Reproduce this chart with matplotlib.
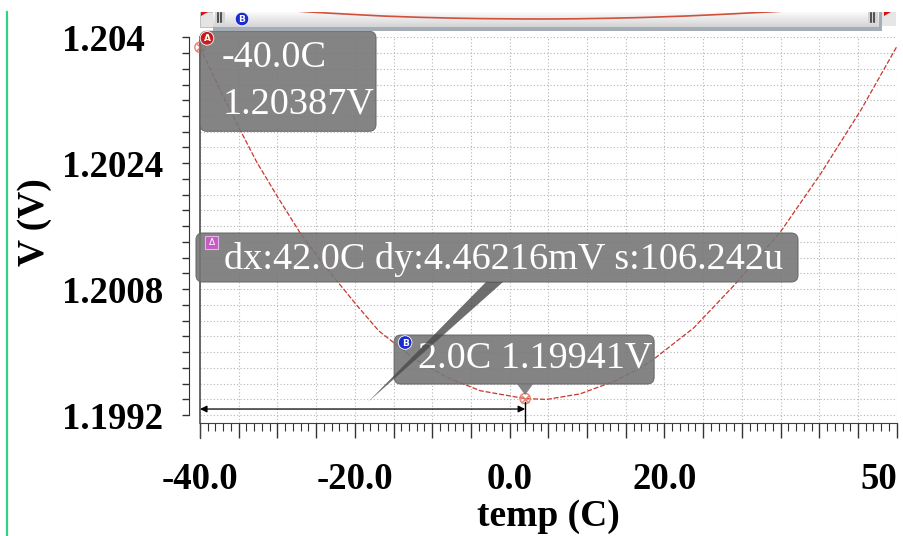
import matplotlib
matplotlib.use("Agg")
import matplotlib.pyplot as plt
import numpy as np
from matplotlib.patches import FancyBboxPatch, Polygon, Circle, Rectangle
from matplotlib.ticker import MultipleLocator, FixedLocator, FuncFormatter

# ---------------------------------------------------------------------------
# Data: bandgap output voltage vs temperature
# ---------------------------------------------------------------------------

temp_c = [-40.0, -37.4, -34.8, -32.7, -29.9, -27.1, -24.1, -19.7, -16.9, -12.4,
          -8.1, -3.8, 2.0, 4.8, 9.1, 13.5, 16.9, 18.6, 23.8, 29.0, 35.0, 40.2,
          45.4, 50.0]
v_out = [1.20387, 1.20333, 1.20282, 1.20242, 1.20196, 1.20152, 1.20112, 1.20059,
         1.20027, 1.19992, 1.19968, 1.19951, 1.19941, 1.19940, 1.19947, 1.19963,
         1.19980, 1.19991, 1.20031, 1.20085, 1.20153, 1.20227, 1.20308, 1.20388]

# cursor A and B
cursor_temp = [-40.0, 2.0]
cursor_v = [1.203873, 1.19941084]

x_tick_values = [-40, -20, 0, 20, 50]
x_tick_labels = ["-40.0", "-20.0", "0.0", "20.0", "50"]
y_tick_values = [1.1992, 1.2008, 1.2024, 1.204]
y_tick_labels = ["1.1992", "1.2008", "1.2024", "1.204"]

W, H = 904, 536
SERIF = "Liberation Serif"
CURVE = "#c8372d"


def rect(left, top, right, bottom):
    """pixel box (top-left origin) -> figure fraction"""
    return [left / W, 1 - bottom / H, (right - left) / W, (bottom - top) / H]


fig = plt.figure(figsize=(W / 100, H / 100), dpi=100)
fig.patch.set_facecolor("white")

# ---- main plot area ----
ax = fig.add_axes(rect(200, 37.3, 896.7, 423))
ax.set_xlim(-40, 50)
ax.set_ylim(1.19910, 1.204)
for s in ["top", "right", "bottom"]:
    ax.spines[s].set_visible(False)
ax.spines["left"].set_color("#505050")
ax.spines["left"].set_linewidth(1.2)

ax.xaxis.set_major_locator(MultipleLocator(5))
ax.tick_params(axis="x", length=0, labelbottom=False)
ax.yaxis.set_major_locator(FixedLocator(y_tick_values))
ax.yaxis.set_minor_locator(MultipleLocator(0.0002))
ax.set_yticks(y_tick_values, y_tick_labels)
ax.tick_params(axis="y", which="both", length=0, pad=99.4, labelsize=26.5)
for lab in ax.get_yticklabels():
    lab.set_ha("left")
    lab.set_fontweight("bold")
    lab.set_family(SERIF)
ax.grid(True, which="major", color="#b4b4b4", ls=(0, (1, 2)), lw=0.8)
ax.grid(True, which="minor", axis="y", color="#b4b4b4", ls=(0, (1, 2)), lw=0.8)

ax.plot(temp_c, v_out, color=CURVE, lw=0.9, ls=(0, (4, 1.5)), zorder=3)
ax.scatter(cursor_temp, cursor_v, s=55, marker="o", facecolors="none",
           edgecolors="#e8806f", linewidths=1.0, zorder=4, clip_on=False)
ax.scatter(cursor_temp, cursor_v, s=30, marker="x", color="#e8806f",
           linewidths=1.0, zorder=4, clip_on=False)

# ---- y ruler ----
ry = fig.add_axes(rect(182, 37.3, 189, 415))
ry.set_ylim(1.1992, 1.204)
ry.patch.set_visible(False)
for s in ["top", "left", "bottom"]:
    ry.spines[s].set_visible(False)
ry.spines["right"].set_color("#333333")
ry.yaxis.set_ticks_position("right")
ry.yaxis.set_major_locator(MultipleLocator(0.0002))
ry.tick_params(axis="y", direction="in", length=5.2, width=1.0, color="#333333",
               labelright=False)
ry.set_xticks([])

# ---- x ruler with tick labels ----
rx = fig.add_axes(rect(200, 423, 896.7, 438))
rx.set_xlim(-40, 50)
rx.patch.set_visible(False)
for s in ["right", "bottom"]:
    rx.spines[s].set_visible(False)
for s in ["top", "left"]:
    rx.spines[s].set_color("#404040")
rx.set_yticks([])
rx.xaxis.set_ticks_position("top")
rx.xaxis.set_major_locator(MultipleLocator(5))
rx.xaxis.set_minor_locator(MultipleLocator(1))
tick_map = dict(zip(x_tick_values, x_tick_labels))
rx.xaxis.set_major_formatter(FuncFormatter(lambda v, pos: tick_map.get(int(round(v)), "")))
rx.tick_params(axis="x", which="major", direction="in", length=10.8, width=1.0,
               color="#333333", labeltop=False, labelbottom=True, pad=17,
               labelsize=26.5)
rx.tick_params(axis="x", which="minor", direction="in", length=5.8, width=0.8,
               color="#333333")
for lab in rx.get_xticklabels():
    lab.set_fontweight("bold")
    lab.set_family(SERIF)
    lab.set_va("top")
    if lab.get_text() == "50":
        lab.set_ha("right")

fig.text(548 / W, 1 - 517 / H, "temp (C)", ha="center", va="center",
         fontsize=27, fontweight="bold", family=SERIF)
fig.text(35 / W, 1 - 222 / H, "V (V)", ha="center", va="center", rotation=90,
         fontsize=27, fontweight="bold", family=SERIF)

# ---- overlay in pixel coordinates for cursor boxes and overview bar ----
ov = fig.add_axes([0, 0, 1, 1], zorder=5)
ov.set_xlim(0, W)
ov.set_ylim(H, 0)
ov.axis("off")
ov.patch.set_visible(False)

fig.canvas.draw()


def to_px(t, v):
    x, y = ax.transData.transform((t, v))
    return x, H - y


ax_px, ay_px = to_px(cursor_temp[0], cursor_v[0])
bx_px, by_px = to_px(cursor_temp[1], cursor_v[1])

BOX_FC = "#777777"
BOX_KW = dict(fc=BOX_FC, ec="#666666", lw=0.8, alpha=0.9)
TXT_KW = dict(color="white", fontsize=27.5, family=SERIF, va="center", ha="left")


def cursor_badge(x, y, letter, color):
    ov.add_patch(Circle((x, y), 6.8, fc=color, ec="white", lw=0.6, zorder=8))
    ov.text(x, y + 0.5, letter, color="white", fontsize=6.5, fontweight="bold",
            ha="center", va="center", zorder=9)


# cursor A readout
ov.add_patch(FancyBboxPatch((ax_px, ay_px - 16), 176, 100,
                            boxstyle="round,pad=0,rounding_size=7", **BOX_KW))
ov.text(ax_px + 22, ay_px + 10, f"{cursor_temp[0]:.1f}C", **TXT_KW)
ov.text(ax_px + 23, ay_px + 57, f"{cursor_v[0]:.5f}V", **TXT_KW)
cursor_badge(ax_px + 7, ay_px - 9, "A", "#cc1a1a")

# cursor B readout with pointer
ov.add_patch(FancyBboxPatch((bx_px - 131, by_px - 63.5), 260, 49,
                            boxstyle="round,pad=0,rounding_size=7", **BOX_KW))
ov.add_patch(Polygon([(bx_px - 8, by_px - 14.5), (bx_px + 8, by_px - 14.5),
                      (bx_px, by_px - 3.5)], closed=True, fc=BOX_FC, ec="none",
                     alpha=0.9))
ov.text(bx_px - 107, by_px - 40, f"{cursor_temp[1]:.1f}C {cursor_v[1]:.5f}V", **TXT_KW)
cursor_badge(bx_px - 120, by_px - 56, "B", "#1a2bd0")

# delta readout
dx = cursor_temp[1] - cursor_temp[0]
dy = cursor_v[0] - cursor_v[1]
slope = dy / dx
ov.add_patch(FancyBboxPatch((ax_px - 4, 233), 602, 49,
                            boxstyle="round,pad=0,rounding_size=7", **BOX_KW))
ov.text(ax_px + 24, 259.5, f"dx:{dx:.1f}C dy:{dy * 1e3:.5f}mV s:{slope * 1e6:.3f}u",
        **TXT_KW)
ov.add_patch(Rectangle((ax_px + 5, 236), 13, 13, fc="#c45cc4", ec="#eab0ea", lw=0.8,
                       zorder=8))
ov.text(ax_px + 11.5, 242.5, "Δ", color="white", fontsize=6.5, ha="center",
        va="center", zorder=9)
ov.add_patch(Polygon([(486, 282), (503, 282), (368, 402)], closed=True,
                     fc="#4a4a4a", ec="none", alpha=0.8, zorder=6))

# dx dimension arrow
ov.annotate("", xy=(ax_px, by_px + 10.5), xytext=(bx_px, by_px + 10.5),
            arrowprops=dict(arrowstyle="<|-|>", color="black", lw=0.9,
                            mutation_scale=10, shrinkA=0, shrinkB=0))
ov.plot([bx_px, bx_px], [by_px + 3, 422], color="black", lw=1.0)

# ---- overview bar along the top ----
ov.add_patch(Rectangle((200, 12), 13, 15, fc="#e4e4e4", ec="#b8b8b8", lw=0.6))
ov.add_patch(Rectangle((213, 12), 669, 18.5, fc="#a5adb7", ec="none"))
grad = np.linspace(0.98, 0.83, 32).reshape(-1, 1)
ov.imshow(grad, extent=(213, 879, 27, 12), cmap="gray", vmin=0, vmax=1,
          aspect="auto", zorder=1)
ov.add_patch(Rectangle((882, 12), 14, 14, fc="#e6e6e6", ec="none"))
for hx in (215, 868):
    ov.add_patch(Rectangle((hx, 12), 10, 11, fc="#d4d4d4", ec="none", zorder=2))
    ov.plot([hx + 3.5, hx + 3.5], [13, 22], color="#3a3a3a", lw=1.2, zorder=3)
    ov.plot([hx + 6.5, hx + 6.5], [13, 22], color="#3a3a3a", lw=1.2, zorder=3)
ov.add_patch(Polygon([(201, 12), (208, 12), (201, 16)], fc="#dd1111", ec="none"))
ov.add_patch(Polygon([(884, 12), (891, 12), (884, 16)], fc="#dd1111", ec="none"))
cursor_badge(242, 19, "B", "#1a2bd0")

mini = fig.add_axes(rect(213, 12, 882, 20), zorder=6)
mini.set_xlim(-40, 50)
mini.set_ylim(1.1991, 1.2015)
mini.axis("off")
mini.patch.set_visible(False)
mini.plot(temp_c, v_out, color="#d0503c", lw=1.2)

# left edge marker line
ov.plot([7, 7], [12, H], color="#2fd482", lw=1.6)

fig.savefig("out.png", dpi=100)
